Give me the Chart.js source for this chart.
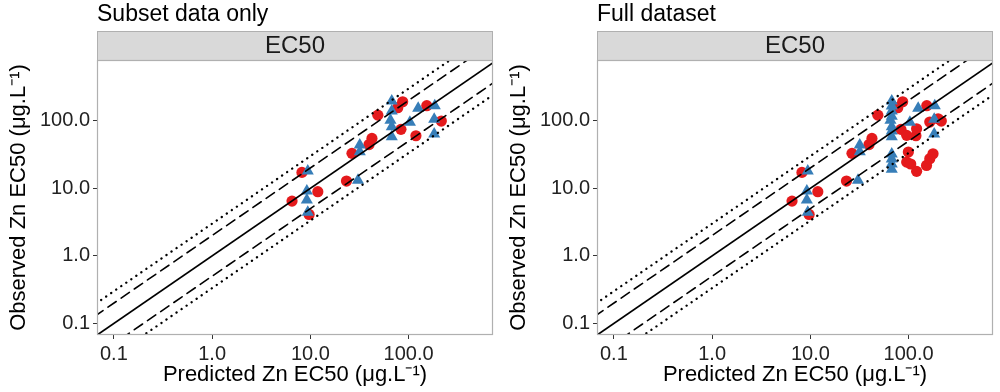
<!DOCTYPE html>
<html>
<head>
<meta charset="utf-8">
<script src="https://cdn.jsdelivr.net/npm/chart.js@4.4.1/dist/chart.umd.min.js"></script>
<style>
  body { margin: 0; background: #fff; }
  .panel { position: absolute; top: 0; width: 500px; height: 392px; }
</style>
</head>
<body>
<div class="panel" style="left:0"><canvas id="subsetChart" width="500" height="392"></canvas></div>
<div class="panel" style="left:500px"><canvas id="fullChart" width="500" height="392"></canvas></div>
<script>
// axis ticks (log scale)
var tickVals = [0.1, 1, 10, 100];
var tickLabels = ['0.1', '1.0', '10.0', '100.0'];
var axisMin = 0.0673;
var xMax = 722;
var yMax = 793;

// 1:1 line, factor 2 and factor 3 bands
var refX = [0.01, 2000];
var solidFactors = [1];
var dashFactors = [2, 0.5];
var dotFactors = [3, 1 / 3];

// subset data (red circles / blue triangles)
var subsetRedX = [86.9, 77.5, 48.6, 83.5, 42.3, 39.5, 153, 215, 118.6, 26.5, 23.3, 8.2, 11.9, 6.5, 9.7];
var subsetRedY = [191, 156, 121, 74.6, 54.8, 44.4, 167, 99, 60, 32.9, 12.8, 17.2, 8.9, 6.46, 4.1];
var subsetBlueX = [67.3, 67.3, 65.3, 67.3, 67.3, 125, 184.5, 103, 182, 182, 31.8, 31.8, 30.5, 9.4, 9.2, 9.2, 9.4];
var subsetBlueY = [196, 139, 102, 81.5, 58, 153, 167, 94.6, 105, 63.5, 43.6, 34.7, 13.2, 18, 9.1, 6.7, 4.4];

// points that only appear in the full dataset
var extraRedX = [95.5, 120.5, 164, 199.5, 99.3, 95.5, 105, 120.5, 152, 164, 177];
var extraRedY = [60.8, 76, 95.7, 107, 34.4, 24.4, 22.9, 17.8, 21.8, 27.4, 32.4];
var extraBlueX = [67.3, 67.3, 67.3, 67.3, 67.3, 67.3, 67.3];
var extraBlueY = [165, 117, 70.4, 32.1, 27.1, 22.9, 19.2];

var fontFamily = '"Liberation Sans", Arial, sans-serif';

function toPoints(xs, ys) {
    return xs.map(function(x, i) { return {x: x, y: ys[i]}; });
}

function refLines(factors, dash, width) {
    return factors.map(function(f) {
        return {
            type: 'scatter',
            data: refX.map(function(x) { return {x: x, y: x * f}; }),
            showLine: true,
            borderColor: '#000',
            borderWidth: width,
            borderDash: dash,
            borderCapStyle: dash.length ? 'round' : 'butt',
            pointRadius: 0,
            order: 1
        };
    });
}

// title, grey strip and panel border
var panelDecor = {
    id: 'panelDecor',
    afterDraw: function(chart) {
        var ctx = chart.ctx;
        var a = chart.chartArea;
        ctx.save();
        ctx.fillStyle = '#000';
        ctx.font = '23px ' + fontFamily;
        ctx.textAlign = 'left';
        ctx.textBaseline = 'alphabetic';
        ctx.fillText(chart.options.plugins.panelDecor.title, a.left, 21);

        ctx.fillStyle = '#d9d9d9';
        ctx.fillRect(a.left, 31, a.right - a.left, a.top - 31);
        ctx.strokeStyle = '#b0b0b0';
        ctx.lineWidth = 1;
        ctx.strokeRect(a.left + 0.5, 31.5, a.right - a.left - 1, a.top - 31);
        ctx.fillStyle = '#1a1a1a';
        ctx.font = '24px ' + fontFamily;
        ctx.textAlign = 'center';
        ctx.textBaseline = 'middle';
        ctx.fillText('EC50', (a.left + a.right) / 2, 46);

        ctx.strokeStyle = '#b0b0b0';
        ctx.lineWidth = 1.2;
        ctx.strokeRect(a.left + 0.5, a.top + 0.5, a.right - a.left - 1, a.bottom - a.top - 1);
        ctx.restore();
    }
};

function logAxis(min, max, title, extra) {
    var axis = {
        type: 'logarithmic',
        min: min,
        max: max,
        grid: { drawOnChartArea: false, drawTicks: true, tickLength: 4, color: '#333' },
        border: { display: false },
        afterBuildTicks: function(scale) {
            scale.ticks = tickVals.map(function(v) { return {value: v}; });
        },
        ticks: {
            color: '#222',
            font: { size: 20, family: fontFamily },
            padding: 3,
            maxRotation: 0,
            autoSkip: false,
            callback: function(value) {
                var i = tickVals.indexOf(value);
                return i >= 0 ? tickLabels[i] : '';
            }
        },
        title: {
            display: true,
            text: title,
            color: '#000',
            font: { size: 22, family: fontFamily }
        }
    };
    for (var k in extra) axis[k] = extra[k];
    return axis;
}

function makePanel(id, title, redX, redY, blueX, blueY) {
    var datasets = [].concat(
        refLines(solidFactors, [], 1.8),
        refLines(dashFactors, [10, 6], 1.6),
        refLines(dotFactors, [0.1, 6], 2.3),
        [{
            data: toPoints(blueX, blueY),
            backgroundColor: '#377EB8',
            borderWidth: 0,
            pointStyle: 'triangle',
            pointRadius: 7,
            order: 2
        }, {
            data: toPoints(redX, redY),
            backgroundColor: '#E41A1C',
            borderWidth: 0,
            pointStyle: 'circle',
            pointRadius: 5.6,
            order: 3
        }]
    );

    var xAxis = logAxis(axisMin, xMax, 'Predicted Zn EC50 (\u03bcg.L\u207b\u00b9)', {
        position: 'bottom',
        afterFit: function(scale) { scale.height = 57; }
    });
    xAxis.title.padding = { top: 0, bottom: 4 };
    var yAxis = logAxis(axisMin, yMax, 'Observed Zn EC50 (\u03bcg.L\u207b\u00b9)', {
        position: 'left',
        afterFit: function(scale) { scale.width = 97; }
    });
    yAxis.title.padding = { top: 6, bottom: 0 };

    return new Chart(document.getElementById(id).getContext('2d'), {
        type: 'scatter',
        data: { datasets: datasets },
        options: {
            responsive: false,
            animation: false,
            layout: { padding: { top: 60, right: 4, left: 0, bottom: 0 } },
            plugins: {
                legend: { display: false },
                tooltip: { enabled: false },
                panelDecor: { title: title }
            },
            scales: { x: xAxis, y: yAxis }
        },
        plugins: [panelDecor]
    });
}

makePanel('subsetChart', 'Subset data only', subsetRedX, subsetRedY, subsetBlueX, subsetBlueY);
makePanel('fullChart', 'Full dataset',
    subsetRedX.concat(extraRedX), subsetRedY.concat(extraRedY),
    subsetBlueX.concat(extraBlueX), subsetBlueY.concat(extraBlueY));
</script>
</body>
</html>
